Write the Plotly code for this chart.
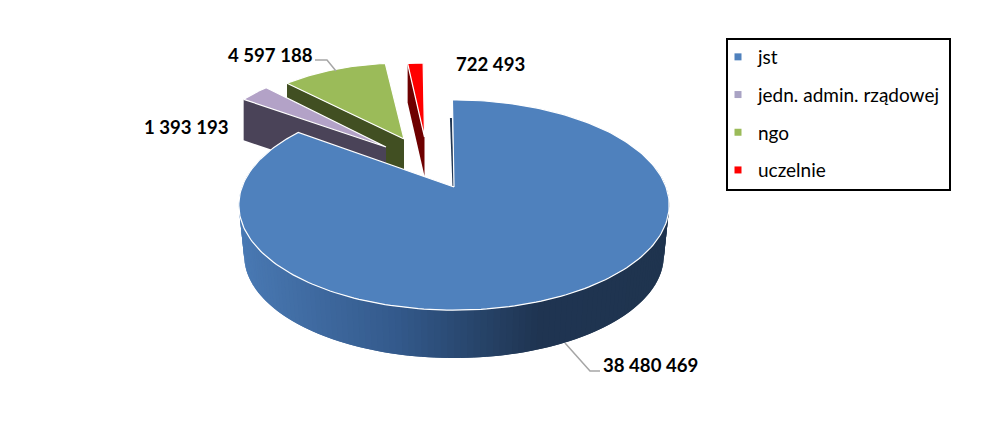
import numpy as np
import plotly.graph_objects as go

# ---- data ----
categories = ["jst", "jedn. admin. rządowej", "ngo", "uczelnie"]
values = [38480469, 1393193, 4597188, 722493]
value_labels = ["38 480 469", "1 393 193", "4 597 188", "722 493"]
top_colors = ["#4F81BD", "#B3A2C7", "#9BBB59", "#FF0000"]
legend_colors = ["#4F81BD", "#A9A3C4", "#9BBB59", "#FF0000"]
wall_colors = ["#1F3552", "#4A4358", "#414F22", "#6E0000"]

# ---- projection of each (exploded) slice: apex, radii, perspective, depth ----
apex_x = [454, 386, 404, 424.5]
apex_y = [187, 147, 139, 137]
radius_x = [212, 176, 172, 155]
radius_y = [102, 81, 76, 74]
persp = [0.1716, 0, 0, 0]
depth = [51, 41, 40, 39]

fractions = np.array(values) / sum(values)
edges = np.concatenate([[0], np.cumsum(fractions)]) * 360 - 0.5


def project(i, theta, dy=0.0, scale=1.0):
    t = np.radians(theta)
    u, v = np.sin(t), np.cos(t)
    w = 1 + persp[i] * v
    return apex_x[i] + radius_x[i] * scale * u / w, apex_y[i] + dy - radius_y[i] * scale * v / w


def poly(xs, ys, fill, line="rgba(0,0,0,0)", width=0):
    return go.Scatter(x=list(xs), y=list(ys), mode="lines", fill="toself", fillcolor=fill,
                      line=dict(color=line, width=width), hoverinfo="skip", showlegend=False)


def top(i):
    th = np.linspace(edges[i], edges[i + 1], 240 if i == 0 else 40)
    x, y = project(i, th)
    return poly(np.r_[apex_x[i], x, apex_x[i]], np.r_[apex_y[i], y, apex_y[i]],
                top_colors[i], "#FFFFFF", 1.2)


def edge_wall(i):
    ox, oy = project(i, edges[i])
    return poly([apex_x[i], ox, ox, apex_x[i]],
                [apex_y[i], oy, oy + depth[i], apex_y[i] + depth[i]], wall_colors[i])


grad_x = [240, 400, 540, 670]
grad_r = [74, 52, 31, 32]
grad_g = [122, 90, 53, 52]
grad_b = [180, 140, 82, 79]


def wall_color(x):
    return "rgb(%d,%d,%d)" % (np.interp(x, grad_x, grad_r), np.interp(x, grad_x, grad_g),
                              np.interp(x, grad_x, grad_b))


fig = go.Figure()
# back slices, far to near
for i in (2, 1, 3):
    fig.add_trace(edge_wall(i))
    fig.add_trace(top(i))

# big slice: thin start face, curved outer wall, then the top
sx, sy = project(0, edges[0])
fig.add_trace(go.Scatter(x=[sx - 1.5, apex_x[0] - 0.5], y=[sy + 18, apex_y[0] + 1], mode="lines",
                         line=dict(color=wall_colors[0], width=2), hoverinfo="skip", showlegend=False))
# strips run from right to left, each overlapping the next so no seams show
ths = np.arange(78, 290, 1.5)
for a, b in zip(ths[:-1], ths[1:]):
    th = np.array([a, b + 1.5])
    x1, y1 = project(0, th)
    x2, y2 = project(0, th[::-1], dy=depth[0], scale=0.975)
    col = wall_color((x1[0] + x2[1]) / 2)
    fig.add_trace(poly(np.r_[x1, x2], np.r_[y1, y2], col))
fig.add_trace(top(0))

# legend entries
for name, col in zip(categories, legend_colors):
    fig.add_trace(go.Scatter(x=[None], y=[None], mode="markers", name=name, legendgroup=name,
                             marker=dict(symbol="square", size=7, color=col)))

label_x = [650, 186, 270, 490]
label_y = [365, 127, 55, 64]
annotations = [dict(x=x, y=y, text="<b>%s</b>" % t, showarrow=False, xref="x", yref="y",
                    font=dict(family="Lato", size=18.6, color="#000000"))
               for x, y, t in zip(label_x, label_y, value_labels)]

leader = dict(color="#A6A6A6", width=1.5)
shapes = [
    dict(type="path", path="M 565 343 L 590 371 L 600 371", xref="x", yref="y", line=leader),
    dict(type="path", path="M 315 60 L 327 60 L 336 71", xref="x", yref="y", line=leader),
    dict(type="rect", x0=727, x1=950, y0=39, y1=190, xref="x", yref="y",
         line=dict(color="#000000", width=2), layer="below"),
]

fig.update_layout(
    width=984, height=440, margin=dict(l=0, r=0, t=0, b=0), autosize=False,
    paper_bgcolor="#FFFFFF", plot_bgcolor="#FFFFFF",
    xaxis=dict(range=[0, 984], visible=False, fixedrange=True),
    yaxis=dict(range=[440, 0], visible=False, fixedrange=True),
    annotations=annotations, shapes=shapes,
    legend=dict(x=718 / 984, y=1 - 38 / 440, xanchor="left", yanchor="top", traceorder="grouped",
                tracegroupgap=10, itemclick=False, itemdoubleclick=False, bgcolor="rgba(0,0,0,0)",
                font=dict(family="Lato", size=19, color="#000000")),
    showlegend=True,
)
fig.write_html("out.html", post_script="document.body.style.margin='0';", config={"displayModeBar": False})
